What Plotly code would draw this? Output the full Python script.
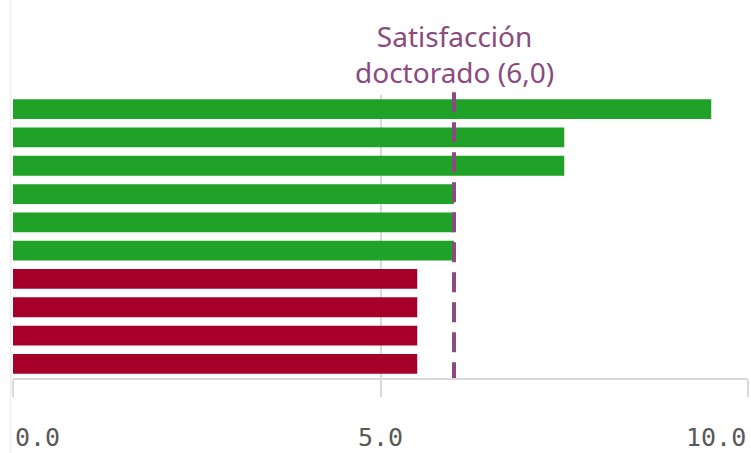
import plotly.graph_objects as go

# Data
categories = ["Item 1", "Item 2", "Item 3", "Item 4", "Item 5",
              "Item 6", "Item 7", "Item 8", "Item 9", "Item 10"]
values = [9.5, 7.5, 7.5, 6.0, 6.0, 6.0, 5.5, 5.5, 5.5, 5.5]
reference_value = 6.0
reference_label = "Satisfacción<br>doctorado (6,0)"
tick_values = [0, 5, 10]
tick_labels = ["0.0", "5.0", "10.0"]

GREEN = "#20a127"
RED = "#a6002a"
PURPLE = "#8b4a80"
GRID = "#d9d9d9"

colors = [GREEN if v >= reference_value else RED for v in values]

fig = go.Figure(go.Bar(
    x=values, y=categories, orientation="h",
    marker=dict(color=colors, line=dict(width=0)),
    hoverinfo="x+y",
))

fig.update_layout(
    width=751, height=453,
    margin=dict(l=13, r=3, t=95, b=75),
    paper_bgcolor="white", plot_bgcolor="white",
    showlegend=False, bargap=0.3,
    xaxis=dict(range=[0, 10], tickvals=tick_values, showticklabels=False,
               showgrid=True, gridcolor=GRID, gridwidth=2,
               ticks="outside", ticklen=17, tickcolor=GRID, tickwidth=2,
               showline=True, linecolor=GRID, linewidth=2,
               zeroline=False, fixedrange=True),
    yaxis=dict(autorange="reversed", showticklabels=False, showgrid=False,
               zeroline=False, ticks="", fixedrange=True),
)

# reference line
fig.add_shape(type="line", xref="x", yref="paper",
              x0=reference_value, x1=reference_value, y0=1.01, y1=0,
              line=dict(color=PURPLE, width=4, dash="20px,10px"), layer="above")

# left panel border
fig.add_shape(type="line", xref="paper", yref="paper",
              x0=-0.003, x1=-0.003, y0=-0.27, y1=1.34,
              line=dict(color="#e6e6e6", width=1))

fig.add_annotation(x=reference_value, xref="x", y=1, yref="paper",
                   yanchor="bottom", yshift=2, text=reference_label,
                   showarrow=False, align="center",
                   font=dict(family="Noto Sans", size=28, color=PURPLE))

anchors = ["left", "center", "right"]
for tv, tl, an in zip(tick_values, tick_labels, anchors):
    fig.add_annotation(x=tv, xref="x", y=-0.212, yref="paper",
                       xanchor=an, yanchor="middle", text=tl,
                       showarrow=False,
                       font=dict(family="DejaVu Sans Mono", size=25, color="#595959"))

fig.write_html("out.html",
               config={"responsive": False, "displayModeBar": False},
               post_script="document.body.style.margin='0';document.body.style.overflow='hidden';")
